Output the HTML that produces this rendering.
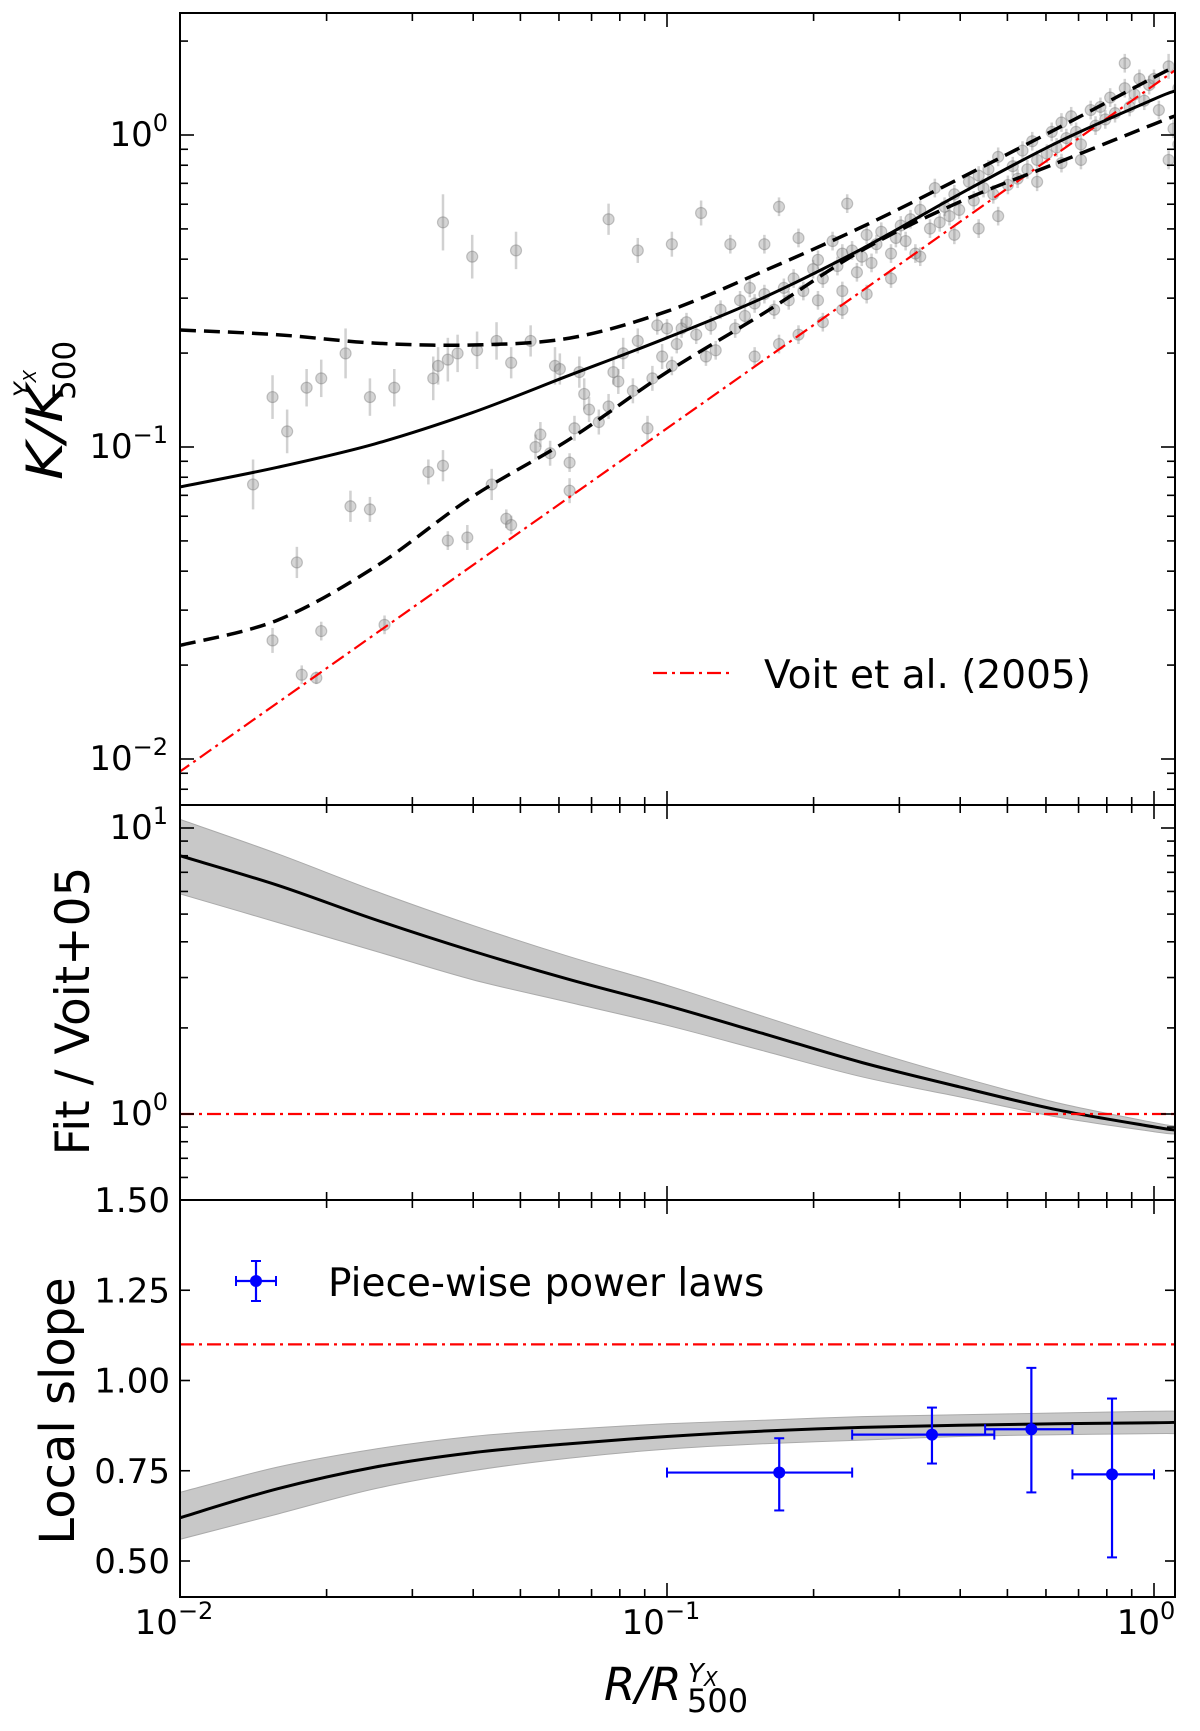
<!DOCTYPE html>
<html><head><meta charset="utf-8"><title>Entropy profiles</title>
<style>
html,body{margin:0;padding:0;background:#fff;}
svg{display:block;font-family:"DejaVu Sans","Liberation Sans",sans-serif;}
</style></head>
<body>
<svg id="fig" width="1200" height="1731" viewBox="0 0 1200 1731" xmlns="http://www.w3.org/2000/svg">
<g id="g-top"></g>
<g id="g-mid"></g>
<g id="g-bot"></g>
<g id="g-axes"></g>
<g id="g-text">
  <text x="168" y="146" font-size="34" text-anchor="end">10<tspan dy="-15" font-size="24">0</tspan></text>
  <text x="168" y="458" font-size="34" text-anchor="end">10<tspan dy="-15" font-size="24">−1</tspan></text>
  <text x="168" y="770" font-size="34" text-anchor="end">10<tspan dy="-15" font-size="24">−2</tspan></text>
  <text x="168" y="839" font-size="34" text-anchor="end">10<tspan dy="-15" font-size="24">1</tspan></text>
  <text x="168" y="1125" font-size="34" text-anchor="end">10<tspan dy="-15" font-size="24">0</tspan></text>
  <g>
    <text x="0" y="0" font-size="50" font-style="italic" textLength="95" lengthAdjust="spacingAndGlyphs" transform="translate(62 480) rotate(-90)">K/K</text>
    <text x="0" y="0" font-size="31" transform="translate(75 400) rotate(-90)">500</text>
    <text x="0" y="0" font-size="24" font-style="italic" transform="translate(31 397) rotate(-90)">Y<tspan dy="5" font-size="18">X</tspan></text>
  </g>
  <text x="0" y="0" font-size="47" text-anchor="middle" transform="translate(89 1011) rotate(-90)">Fit / Voit+05</text>
  <text x="0" y="0" font-size="48" text-anchor="middle" transform="translate(74 1411) rotate(-90)">Local slope</text>
  <g>
    <text x="604" y="1700" font-size="45" font-style="italic">R/R</text>
    <text x="687" y="1712" font-size="32">500</text>
    <text x="688" y="1682" font-size="26" font-style="italic">Y<tspan dy="4" font-size="20">X</tspan></text>
  </g>
  <text x="764" y="688" font-size="39">Voit et al. (2005)</text>
  <text x="328" y="1296" font-size="39">Piece-wise power laws</text>
</g>
</svg>
<script>
// ---------- data ----------
const ptLogR = [-1.85,-1.81,-1.78,-1.74,-1.71,-1.76,-1.81,-1.75,-1.71,-1.72,-1.66,-1.65,-1.61,-1.61,-1.56,-1.58,-1.49,-1.48,-1.47,-1.46,-1.46,-1.45,-1.43,-1.45,-1.41,-1.40,-1.39,-1.36,-1.35,-1.33,-1.32,-1.32,-1.31,-1.28,-1.27,-1.26,-1.24,-1.23,-1.22,-1.20,-1.20,-1.19,-1.18,-1.17,-1.16,-1.14,-1.12,-1.12,-1.11,-1.10,-1.09,-1.07,-1.06,-1.06,-1.04,-1.03,-1.02,-1.01,-1.00,-0.99,-0.99,-0.98,-0.97,-0.96,-0.94,-0.93,-0.92,-0.91,-0.90,-0.89,-0.87,-0.86,-0.85,-0.84,-0.83,-0.82,-0.80,-0.80,-0.78,-0.77,-0.76,-0.75,-0.74,-0.73,-0.72,-0.70,-0.69,-0.69,-0.68,-0.66,-0.65,-0.64,-0.64,-0.63,-0.62,-0.61,-0.60,-0.59,-0.58,-0.57,-0.56,-0.54,-0.53,-0.52,-0.51,-0.50,-0.49,-0.48,-0.46,-0.45,-0.44,-0.43,-0.42,-0.41,-0.40,-0.38,-0.37,-0.36,-0.35,-0.34,-0.33,-0.32,-0.30,-0.29,-0.28,-0.27,-0.26,-0.25,-0.24,-0.22,-0.21,-0.20,-0.19,-0.18,-0.17,-0.16,-0.15,-0.13,-0.12,-0.11,-0.10,-0.09,-0.08,-0.06,-0.05,-0.04,-0.03,-0.02,-0.01,0.00,0.01,0.03,0.04,0.05,0.03,-0.06,0.05,-0.24,-0.19,-0.15,-0.32,-0.36,-0.41,-0.48,-0.54,-0.59,-0.64,-0.68,-0.73,-0.77,-0.82];
const ptLogK = [-1.12,-0.84,-0.95,-0.81,-0.78,-1.37,-1.62,-1.73,-1.59,-1.74,-0.70,-1.19,-1.20,-0.84,-0.81,-1.57,-1.08,-0.78,-0.74,-0.28,-1.06,-0.72,-0.70,-1.30,-1.29,-0.39,-0.69,-1.12,-0.66,-1.23,-1.25,-0.73,-0.37,-0.66,-1.00,-0.96,-1.02,-0.74,-0.75,-1.05,-1.14,-0.94,-0.76,-0.83,-0.88,-0.92,-0.27,-0.87,-0.76,-0.79,-0.70,-0.82,-0.66,-0.37,-0.94,-0.78,-0.61,-0.71,-0.62,-0.35,-0.74,-0.67,-0.62,-0.60,-0.64,-0.25,-0.71,-0.61,-0.69,-0.56,-0.35,-0.62,-0.53,-0.58,-0.49,-0.54,-0.35,-0.51,-0.56,-0.23,-0.49,-0.53,-0.46,-0.33,-0.50,-0.43,-0.40,-0.53,-0.46,-0.34,-0.42,-0.38,-0.50,-0.22,-0.37,-0.44,-0.39,-0.32,-0.41,-0.35,-0.31,-0.38,-0.33,-0.29,-0.34,-0.27,-0.38,-0.24,-0.30,-0.17,-0.28,-0.23,-0.26,-0.19,-0.24,-0.15,-0.21,-0.13,-0.17,-0.11,-0.19,-0.07,-0.16,-0.10,-0.14,-0.05,-0.11,-0.02,-0.08,-0.06,0.01,-0.04,0.04,-0.01,0.06,0.01,-0.03,0.08,0.03,0.09,0.05,0.12,0.07,0.15,0.09,0.13,0.18,0.11,0.16,0.18,0.08,0.22,0.02,-0.03,-0.08,0.23,0.15,-0.15,-0.09,-0.08,-0.26,-0.30,-0.32,-0.39,-0.46,-0.51,-0.56,-0.60,-0.64,-0.67,-0.71];
const ptErr = [0.08,0.07,0.07,0.06,0.06,0.05,0.04,0.03,0.03,0.02,0.08,0.05,0.04,0.06,0.06,0.03,0.04,0.07,0.06,0.09,0.05,0.07,0.06,0.03,0.04,0.07,0.06,0.05,0.06,0.03,0.03,0.05,0.06,0.05,0.04,0.04,0.04,0.06,0.05,0.03,0.04,0.04,0.05,0.05,0.04,0.04,0.05,0.04,0.04,0.04,0.05,0.04,0.04,0.04,0.04,0.04,0.03,0.04,0.03,0.04,0.03,0.03,0.03,0.03,0.03,0.04,0.03,0.03,0.03,0.03,0.03,0.03,0.03,0.03,0.03,0.03,0.03,0.03,0.03,0.03,0.03,0.03,0.03,0.03,0.03,0.03,0.03,0.03,0.03,0.03,0.03,0.03,0.03,0.03,0.03,0.03,0.03,0.03,0.03,0.03,0.03,0.03,0.03,0.03,0.03,0.03,0.03,0.03,0.03,0.03,0.03,0.03,0.03,0.03,0.03,0.03,0.03,0.03,0.03,0.03,0.03,0.03,0.03,0.03,0.03,0.03,0.03,0.03,0.03,0.03,0.03,0.03,0.03,0.03,0.03,0.03,0.03,0.03,0.03,0.03,0.03,0.03,0.03,0.03,0.03,0.03,0.03,0.03,0.03,0.03,0.03,0.04,0.03,0.04,0.03,0.03,0.04,0.03,0.03,0.03,0.03,0.03,0.03,0.03,0.03,0.03,0.03,0.03,0.03,0.03,0.03,0.03,0.03,0.03];

const gridLogR = [-2,-1.8,-1.6,-1.4,-1.2,-1.0,-0.8,-0.6,-0.4,-0.2,0,0.043];
const fitLogK  = [-1.128,-1.065,-0.99,-0.89,-0.77,-0.65,-0.52,-0.365,-0.19,-0.025,0.115,0.141];
const upLogK   = [-0.625,-0.64,-0.667,-0.673,-0.651,-0.565,-0.435,-0.295,-0.14,0.02,0.185,0.218];
const loLogK   = [-1.636,-1.555,-1.385,-1.16,-0.975,-0.76,-0.57,-0.37,-0.215,-0.09,0.035,0.061];
const voitNorm = 1.445, voitSlope = 1.1;

const ratioLog    = [0.903,0.80,0.68,0.57,0.47,0.379,0.28,0.18,0.095,0.015,-0.045,-0.056];
const ratioUpLog  = [1.03,0.91,0.78,0.66,0.55,0.45,0.34,0.23,0.13,0.04,-0.03,-0.042];
const ratioLoLog  = [0.77,0.67,0.57,0.47,0.39,0.31,0.22,0.13,0.06,-0.01,-0.062,-0.07];

const slopeVals = [0.62,0.70,0.76,0.80,0.825,0.845,0.86,0.87,0.876,0.88,0.883,0.884];
const slopeUp   = [0.69,0.76,0.81,0.845,0.865,0.88,0.89,0.90,0.905,0.91,0.915,0.915];
const slopeLo   = [0.56,0.63,0.70,0.75,0.785,0.81,0.825,0.835,0.845,0.85,0.853,0.853];
const voitSlopeLine = 1.10;

const pwR    = [0.17,0.35,0.56,0.82];
const pwRlo  = [0.10,0.24,0.45,0.68];
const pwRhi  = [0.24,0.47,0.68,1.00];
const pwS    = [0.745,0.85,0.865,0.74];
const pwSlo  = [0.64,0.77,0.69,0.51];
const pwShi  = [0.84,0.925,1.035,0.95];

const xTicks = [-2,-1,0];
const slopeTicks = [0.50,0.75,1.00,1.25,1.50];

// ---------- scales ----------
const L=180,R=1175, T1=13,B1=805, T2=805,B2=1200, T3=1200,B3=1597;
const xl = lr => L + (lr+2)*487;
const xr = r => xl(Math.log10(r));
const y1 = lk => 135 - lk*312;
const y2 = lg => 1114 - lg*286;
const y3 = s => 1561 - (s-0.5)*361;
const NS="http://www.w3.org/2000/svg";
function mk(tag, parent, attrs){const e=document.createElementNS(NS,tag);for(const k in attrs)e.setAttribute(k,attrs[k]);parent.appendChild(e);return e;}
function pathFrom(xs, ys){return xs.map((x,i)=>(i?'L':'M')+x.toFixed(1)+','+ys[i].toFixed(1)).join(' ');}
function smooth(xs, ys, cont){
  let d=(cont?'L':'M')+xs[0].toFixed(1)+','+ys[0].toFixed(1);
  const n=xs.length;
  for(let i=0;i<n-1;i++){
    const x0=xs[Math.max(i-1,0)],y0=ys[Math.max(i-1,0)],x1=xs[i],y1_=ys[i],x2=xs[i+1],y2_=ys[i+1],x3=xs[Math.min(i+2,n-1)],y3_=ys[Math.min(i+2,n-1)];
    const c1x=x1+(x2-x0)/6,c1y=y1_+(y2_-y0)/6,c2x=x2-(x3-x1)/6,c2y=y2_-(y3_-y1_)/6;
    d+=' C'+c1x.toFixed(1)+','+c1y.toFixed(1)+' '+c2x.toFixed(1)+','+c2y.toFixed(1)+' '+x2.toFixed(1)+','+y2_.toFixed(1);
  }
  return d;
}
function bandPath(xs, up, lo){
  return smooth(xs,up,false)+' '+smooth(xs.slice().reverse(),lo.slice().reverse(),true)+' Z';
}

const gTop=document.getElementById('g-top'), gMid=document.getElementById('g-mid'), gBot=document.getElementById('g-bot'), gAx=document.getElementById('g-axes');
const defs=mk('defs',document.getElementById('fig'),{});
[[1,T1,B1],[2,T2,B2],[3,T3,B3]].forEach(([n,t,b])=>{const c=mk('clipPath',defs,{id:'c'+n});mk('rect',c,{x:L,y:t,width:R-L,height:b-t});});
gTop.setAttribute('clip-path','url(#c1)');gMid.setAttribute('clip-path','url(#c2)');gBot.setAttribute('clip-path','url(#c3)');

for(let i=0;i<ptLogR.length;i++){
  const cx=xl(ptLogR[i]), cy=y1(ptLogK[i]);
  const eb=mk('line',gTop,{x1:cx,x2:cx,y1:y1(ptLogK[i]+ptErr[i]),y2:y1(ptLogK[i]-ptErr[i]),stroke:'#999','stroke-opacity':0.45,'stroke-width':2.5});
  
  
  const c=mk('circle',gTop,{cx:cx,cy:cy,r:5.5,fill:'#888','fill-opacity':0.35,stroke:'#777','stroke-opacity':0.4,'stroke-width':1.2});
  
  
}
const gx=gridLogR.map(xl);
const voitLine=mk('path',gTop,{d:pathFrom([xl(-2.05),xl(0.1)],[y1(Math.log10(voitNorm)+voitSlope*-2.05),y1(Math.log10(voitNorm)+voitSlope*0.1)]),stroke:'#ff0000',fill:'none','stroke-width':2.2,'stroke-dasharray':'14,5,3,5'});


const upL=mk('path',gTop,{d:smooth(gx,upLogK.map(y1)),stroke:'#000',fill:'none','stroke-width':3.5,'stroke-dasharray':'16,8'});


const loL=mk('path',gTop,{d:smooth(gx,loLogK.map(y1)),stroke:'#000',fill:'none','stroke-width':3.5,'stroke-dasharray':'16,8'});


const fitL=mk('path',gTop,{d:smooth(gx,fitLogK.map(y1)),stroke:'#000',fill:'none','stroke-width':3});


const lg1=mk('line',document.getElementById('g-text'),{x1:653,x2:733,y1:673,y2:673,stroke:'#ff0000','stroke-width':2.2,'stroke-dasharray':'14,5,3,5'});



const band2=mk('path',gMid,{d:bandPath(gx,ratioUpLog.map(y2),ratioLoLog.map(y2)),fill:'#c8c8c8',stroke:'#aaa','stroke-width':1});


const rl=mk('path',gMid,{d:smooth(gx,ratioLog.map(y2)),stroke:'#000',fill:'none','stroke-width':3});


const one=mk('line',gMid,{x1:L,x2:R,y1:y2(0),y2:y2(0),stroke:'#ff0000','stroke-width':2.2,'stroke-dasharray':'14,5,3,5'});



const band3=mk('path',gBot,{d:bandPath(gx,slopeUp.map(y3),slopeLo.map(y3)),fill:'#c8c8c8',stroke:'#aaa','stroke-width':1});


const sl=mk('path',gBot,{d:smooth(gx,slopeVals.map(y3)),stroke:'#000',fill:'none','stroke-width':3});


const vs=mk('line',gBot,{x1:L,x2:R,y1:y3(voitSlopeLine),y2:y3(voitSlopeLine),stroke:'#ff0000','stroke-width':2.2,'stroke-dasharray':'14,5,3,5'});


function blueErr(parent,cx,cy,x0,x1,yt,yb,name){
  const g=mk('g',parent,{});
  
  
  mk('line',g,{x1:x0,x2:x1,y1:cy,y2:cy,stroke:'#0000ff','stroke-width':2.2});
  mk('line',g,{x1:cx,x2:cx,y1:yt,y2:yb,stroke:'#0000ff','stroke-width':2.2});
  [x0,x1].forEach(x=>mk('line',g,{x1:x,x2:x,y1:cy-5,y2:cy+5,stroke:'#0000ff','stroke-width':2}));
  [yt,yb].forEach(y=>mk('line',g,{x1:cx-5,x2:cx+5,y1:y,y2:y,stroke:'#0000ff','stroke-width':2}));
  mk('circle',g,{cx:cx,cy:cy,r:6,fill:'#0000ff'});
}
for(let i=0;i<pwR.length;i++){
  blueErr(gBot,xr(pwR[i]),y3(pwS[i]),xr(pwRlo[i]),xr(pwRhi[i]),y3(pwShi[i]),y3(pwSlo[i]),'piecewise-point');
}
blueErr(document.getElementById('g-text'),256,1281,236,276,1261,1301,'legend-piecewise-swatch');

function frame(t,b,name){const r=mk('rect',gAx,{x:L,y:t,width:R-L,height:b-t,fill:'none',stroke:'#000','stroke-width':2});}
frame(T1,B1,'top-axes-frame');frame(T2,B2,'mid-axes-frame');frame(T3,B3,'bot-axes-frame');
const tk=(x1,y1_,x2,y2_)=>mk('line',gAx,{x1:x1,y1:y1_,x2:x2,y2:y2_,stroke:'#000','stroke-width':1.6});
for(let d=-2;d<=0;d++){for(let m=1;m<=9;m++){const lr=d+Math.log10(m);const x=xl(lr);if(x>R)continue;const len=m===1?14:8;
  [[T1,B1],[T2,B2],[T3,B3]].forEach(([t,b])=>{tk(x,t,x,t+len);tk(x,b,x,b-len);});}}
for(let d=-3;d<=0;d++){for(let m=1;m<=9;m++){const y=y1(d+Math.log10(m));if(y<T1||y>B1)continue;const len=m===1?14:8;tk(L,y,L+len,y);tk(R,y,R-len,y);}}
for(let d=-1;d<=1;d++){for(let m=1;m<=9;m++){const y=y2(d+Math.log10(m));if(y<T2||y>B2)continue;const len=m===1?14:8;tk(L,y,L+len,y);tk(R,y,R-len,y);}}
slopeTicks.forEach(s=>{const y=y3(s);tk(L,y,L+10,y);tk(R,y,R-10,y);
  const t=mk('text',document.getElementById('g-text'),{x:L-10,y:y+12,'font-size':34,'text-anchor':'end'});t.textContent=s.toFixed(2);
  
  });
xTicks.forEach(d=>{const t=mk('text',document.getElementById('g-text'),{x:xl(d)-(d===0?8:6),y:1634,'font-size':34,'text-anchor':'middle'});
  t.textContent='10';const s=mk('tspan',t,{dy:-15,'font-size':24});s.textContent=d===0?'0':'−'+(-d);
  
  });
</script>
</body></html>
